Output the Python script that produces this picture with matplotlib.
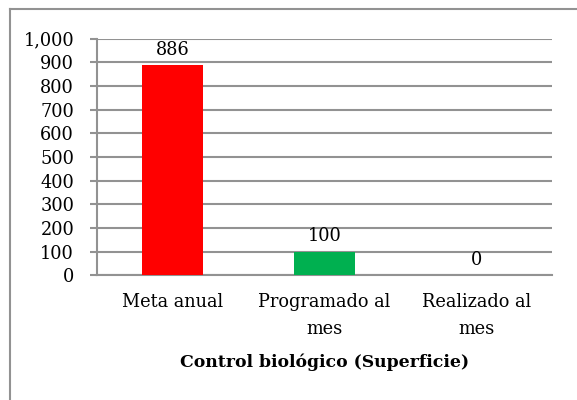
import matplotlib.pyplot as plt
from matplotlib.lines import Line2D
from matplotlib.ticker import FuncFormatter

categories = ['Meta anual', 'Programado al\nmes', 'Realizado al\nmes']
values = [886, 100, 0]
colors = ['#FF0000', '#00B050', '#00B050']
yticks = [0, 100, 200, 300, 400, 500, 600, 700, 800, 900, 1000]

plt.rcParams['font.family'] = ['DejaVu Serif']
plt.rcParams['font.size'] = 12.8

W, H = 577, 400
fig = plt.figure(figsize=(W / 100, H / 100), dpi=100)
ax = fig.add_axes([97 / W, 1 - 275.3 / H, (552 - 97) / W, (275.3 - 38.5) / H])

x = range(len(categories))
bars = ax.bar(x, values, width=0.40, color=colors, zorder=3)
ax.set_xlim(-0.5, len(categories) - 0.5)
ax.set_ylim(0, 1000)
ax.set_yticks(yticks)
ax.yaxis.set_major_formatter(FuncFormatter(lambda v, p: f'{int(v):,}'))
ax.set_xticks(list(x))
ax.set_xticklabels(categories, linespacing=1.6)

grid_c = '#929292'
ax.grid(axis='y', color=grid_c, linewidth=1.5, zorder=0)
for s in ['top', 'right']:
    ax.spines[s].set_visible(False)
for s in ['left', 'bottom']:
    ax.spines[s].set_color(grid_c)
    ax.spines[s].set_linewidth(1.5)
ax.tick_params(axis='y', length=5, width=1.5, color=grid_c, pad=11.5)
ax.tick_params(axis='x', length=0, pad=13)

for b, v in zip(bars, values):
    ax.annotate(f'{v}', (b.get_x() + b.get_width() / 2, v),
                xytext=(0, 11), textcoords='offset points',
                ha='center', va='center')

ax.set_xlabel('Control biológico (Superficie)', fontweight='bold',
              fontsize=12.4, labelpad=11)

# outer chart border (only top and left visible)
fig.add_artist(Line2D([9.5 / W, 9.5 / W], [0, 1 - 8.5 / H], transform=fig.transFigure,
                      color=grid_c, linewidth=1.5))
fig.add_artist(Line2D([9.5 / W, 1], [1 - 8.5 / H, 1 - 8.5 / H], transform=fig.transFigure,
                      color=grid_c, linewidth=1.5))

fig.savefig('out.png', dpi=100)
